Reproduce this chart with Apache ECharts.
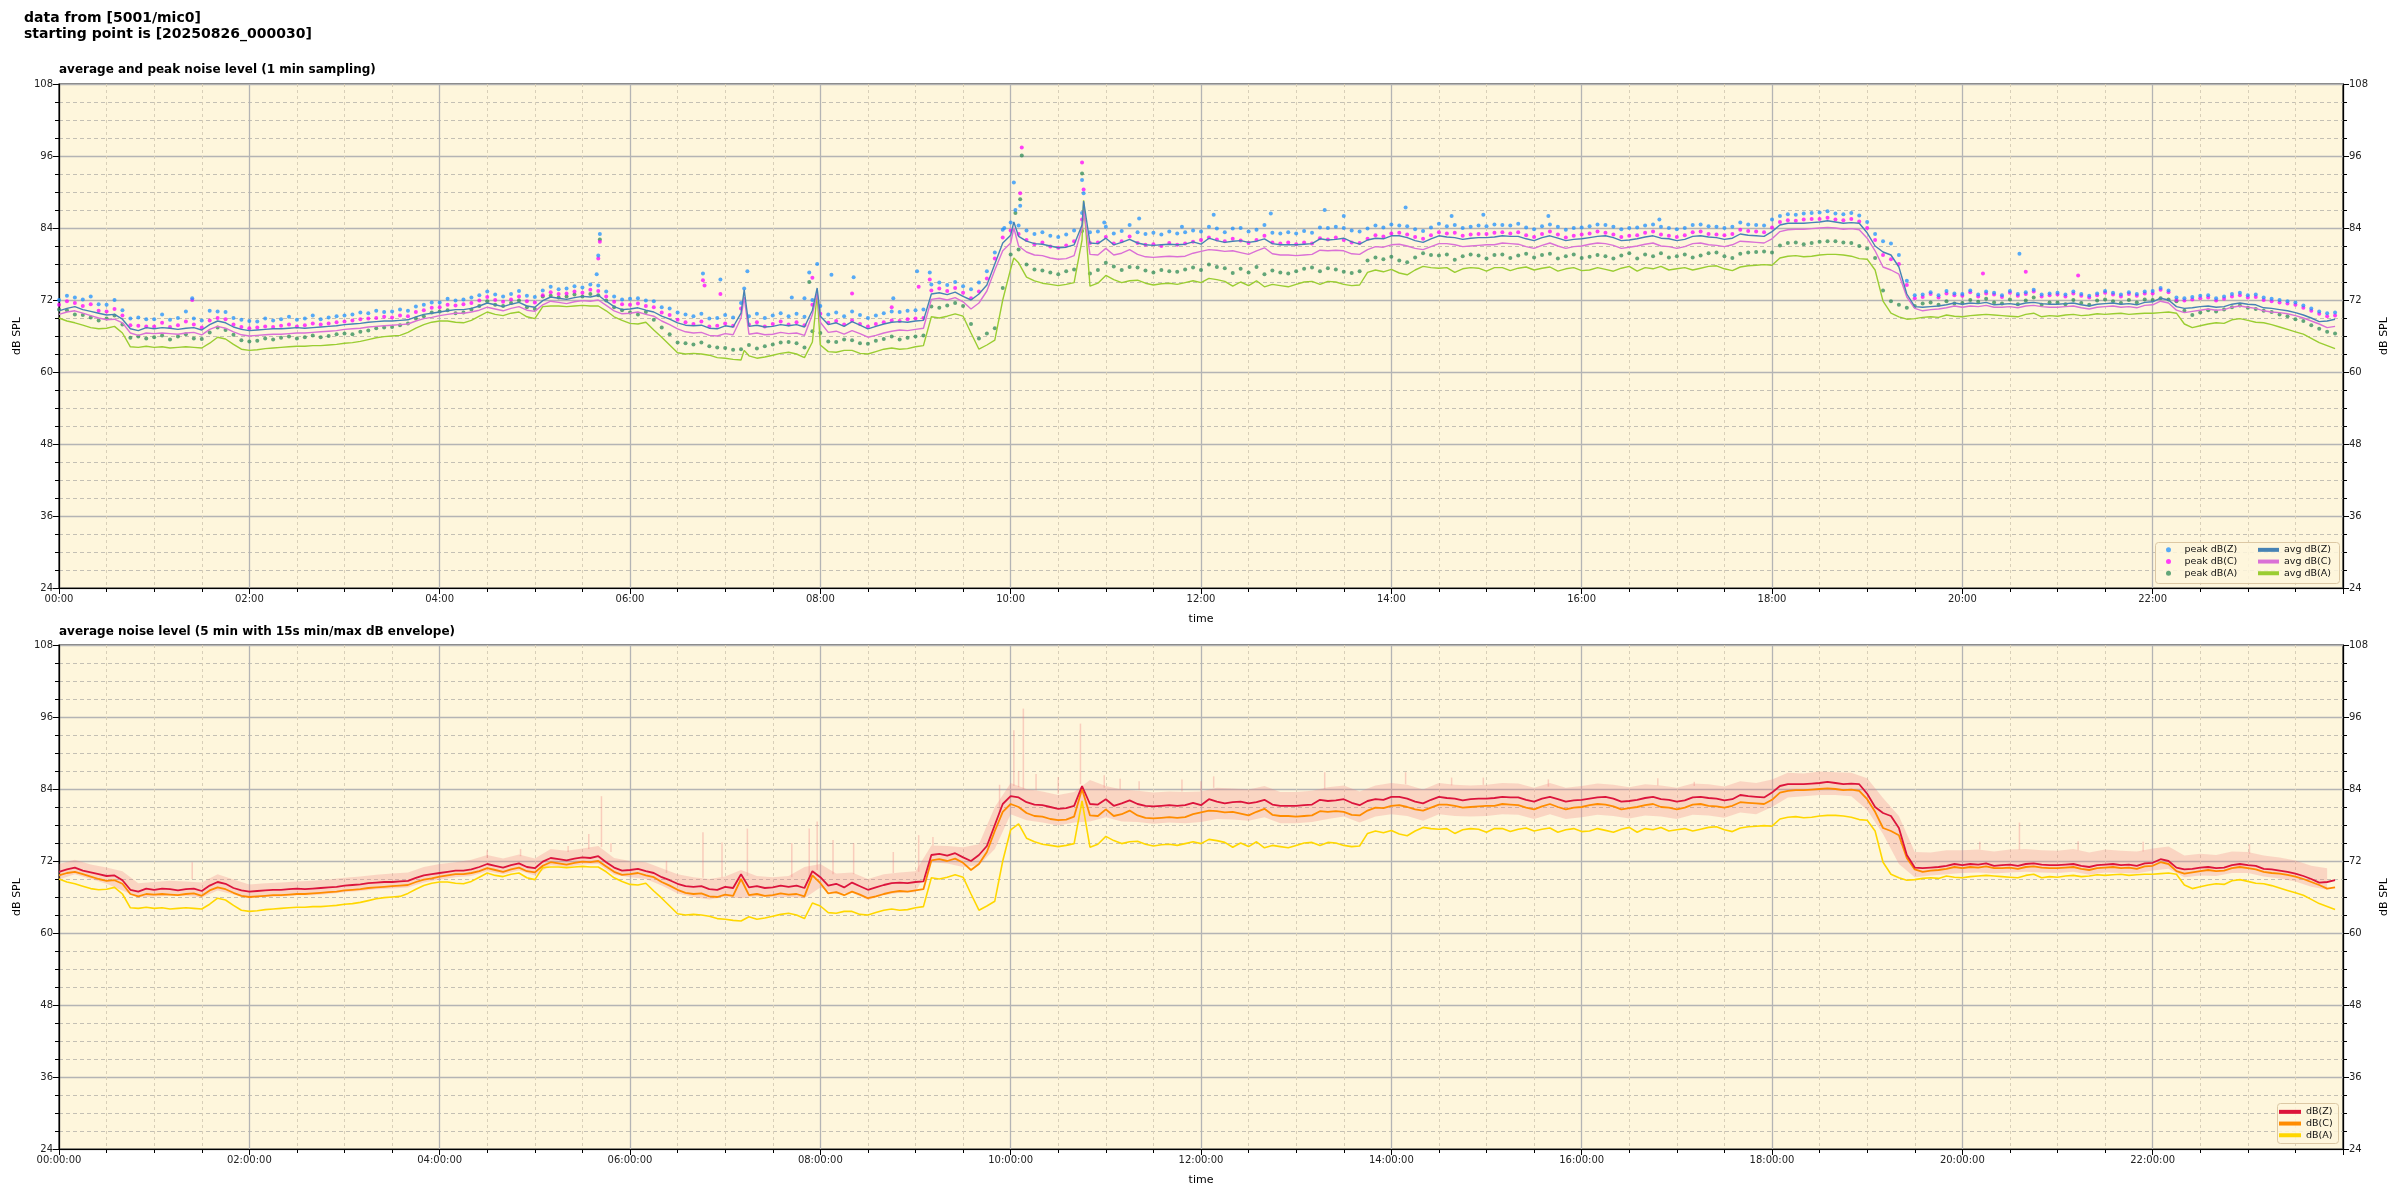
<!DOCTYPE html>
<html><head><meta charset="utf-8">
<script src="https://cdn.jsdelivr.net/npm/echarts@6/dist/echarts.min.js"></script>
<style>html,body{margin:0;padding:0;background:#fff}#c{width:2400px;height:1200px}</style>
</head><body><div id="c"></div>
<script>
// ---------------- DATA ----------------
// time in minutes after 00:00; averages/peaks sampled every 5 min, envelope every 10 min
const STEP_AVG = 5;
const STEP_ENV = 10;
const hourLabels = ['00:00','02:00','04:00','06:00','08:00','10:00','12:00','14:00','16:00','18:00','20:00','22:00',''];
const hourLabelsSec = ['00:00:00','02:00:00','04:00:00','06:00:00','08:00:00','10:00:00','12:00:00','14:00:00','16:00:00','18:00:00','20:00:00','22:00:00',''];

const avgZ = [
70.2,70.6,70.9,70.4,70.1,69.8,69.5,69.6,68.8,67.2,66.9,67.4,
67.2,67.4,67.3,67.1,67.3,67.4,67.0,67.9,68.5,68.2,67.5,67.1,
66.9,67.0,67.1,67.2,67.2,67.3,67.4,67.3,67.4,67.5,67.6,67.7,
67.9,68.0,68.1,68.3,68.4,68.5,68.5,68.6,68.7,69.2,69.6,69.8,
70.0,70.2,70.4,70.4,70.6,71.0,71.5,71.2,70.9,71.3,71.6,71.0,
70.8,71.9,72.5,72.3,72.1,72.4,72.6,72.5,72.8,71.8,70.9,70.4,
70.5,70.7,70.3,70.0,69.3,68.8,68.2,67.8,67.7,67.8,67.3,67.2,
67.7,67.5,69.8,67.6,67.8,67.5,67.6,67.9,67.7,67.9,67.5,70.3,
69.3,67.9,68.2,67.6,68.4,67.8,67.2,67.6,68.0,68.3,68.4,68.3,
68.5,68.6,73.0,73.2,72.9,73.3,72.6,72.0,73.0,74.5,78.0,81.5,
82.8,82.6,81.8,81.4,81.3,81.0,80.7,80.8,81.2,84.5,81.5,81.4,
82.3,81.2,81.6,82.1,81.5,81.2,81.1,81.2,81.3,81.2,81.3,81.7,
81.3,82.3,81.9,81.6,81.8,81.9,81.6,81.8,82.2,81.4,81.2,81.2,
81.2,81.3,81.4,82.2,82.0,82.1,82.3,81.7,81.3,82.0,82.3,82.2,
82.7,82.7,82.4,81.9,81.6,82.2,82.7,82.5,82.4,82.1,82.3,82.4,
82.4,82.5,82.7,82.6,82.6,82.2,81.9,82.4,82.7,82.3,81.9,82.1,
82.2,82.4,82.6,82.7,82.4,81.9,82.0,82.2,82.5,82.7,82.3,82.2,
81.9,82.1,82.6,82.7,82.5,82.4,82.1,82.3,83.0,82.8,82.7,82.6,
83.4,84.5,84.8,84.8,84.8,84.9,85.0,85.2,85.0,84.8,84.9,84.8,
83.2,81.0,80.0,79.5,77.5,73.0,70.9,70.8,70.9,71.0,71.2,71.5,
71.3,71.5,71.4,71.6,71.2,71.3,71.4,71.2,71.5,71.6,71.4,71.3,
71.3,71.4,71.5,71.2,71.0,71.3,71.4,71.5,71.3,71.4,71.2,71.6,
71.7,72.3,72.0,70.9,70.6,70.7,70.9,71.0,70.8,70.9,71.3,71.5,
71.3,71.2,70.7,70.6,70.4,70.2,69.9,69.5,69.0,68.4,68.5,68.8];

const avgC = [
69.6,70.0,70.2,69.8,69.4,69.0,68.7,68.8,68.2,66.5,66.1,66.5,
66.4,66.5,66.4,66.3,66.5,66.6,66.2,67.1,67.6,67.3,66.7,66.2,
66.0,66.1,66.2,66.3,66.3,66.4,66.5,66.5,66.6,66.7,66.8,66.9,
67.1,67.2,67.3,67.5,67.6,67.7,67.8,67.9,68.0,68.5,68.9,69.1,
69.4,69.6,69.8,69.8,70.0,70.3,70.8,70.5,70.2,70.6,70.9,70.3,
70.1,71.2,71.8,71.6,71.4,71.7,71.9,71.8,72.0,71.1,70.2,69.7,
69.8,70.0,69.6,69.3,68.5,67.9,67.2,66.7,66.5,66.6,66.1,66.0,
66.4,66.2,69.0,66.3,66.5,66.2,66.3,66.6,66.4,66.5,66.1,69.6,
68.3,66.6,66.8,66.3,66.9,66.4,65.8,66.1,66.5,66.8,67.0,66.9,
67.1,67.3,72.1,72.3,72.0,72.4,71.7,70.5,71.5,73.5,77.0,80.2,
81.5,81.0,80.0,79.5,79.4,79.0,78.8,78.9,79.4,84.0,79.6,79.5,
80.6,79.5,79.8,80.4,79.6,79.2,79.1,79.2,79.3,79.2,79.3,79.8,
80.1,80.4,80.3,80.1,80.2,79.9,79.6,80.2,80.7,79.7,79.5,79.5,
79.4,79.5,79.6,80.3,80.2,80.3,80.2,79.7,79.6,80.4,80.9,80.8,
81.2,81.3,81.0,80.6,80.4,80.9,81.4,81.4,81.2,80.9,81.0,81.1,
81.2,81.2,81.5,81.4,81.3,80.9,80.6,81.1,81.5,81.0,80.6,80.9,
81.0,81.3,81.5,81.4,81.1,80.6,80.8,81.0,81.3,81.5,81.0,80.9,
80.6,80.9,81.4,81.5,81.2,81.1,80.9,81.2,81.8,81.7,81.6,81.5,
82.2,83.4,83.7,83.8,83.8,83.9,84.0,84.1,84.0,83.8,83.9,83.7,
82.3,80.2,77.5,77.0,76.3,72.5,70.6,70.2,70.4,70.5,70.7,71.0,
70.8,71.0,70.9,71.1,70.8,70.8,70.9,70.7,71.0,71.1,70.9,70.8,
70.8,70.9,71.0,70.7,70.5,70.8,70.9,71.0,70.8,70.9,70.7,71.1,
71.2,71.8,71.5,70.3,69.9,70.1,70.3,70.5,70.3,70.4,70.8,71.0,
70.8,70.6,70.2,70.0,69.9,69.7,69.4,69.0,68.5,68.0,67.4,67.6];

const avgA = [
69.0,68.5,68.2,67.8,67.4,67.2,67.3,67.6,66.5,64.2,64.1,64.3,
64.1,64.2,64.0,64.1,64.2,64.1,64.0,64.8,65.8,65.5,64.6,63.8,
63.6,63.7,63.9,64.0,64.1,64.2,64.3,64.3,64.4,64.4,64.5,64.6,
64.8,64.9,65.1,65.4,65.7,65.9,66.0,66.1,66.6,67.3,67.9,68.3,
68.5,68.5,68.3,68.2,68.6,69.3,70.0,69.6,69.4,69.8,70.0,69.2,
68.9,70.9,71.0,71.0,70.9,71.0,71.1,71.0,71.0,70.2,69.2,68.6,
68.1,68.0,68.3,67.0,65.8,64.5,63.2,63.0,63.1,63.0,62.8,62.4,
62.3,62.1,62.0,62.7,62.3,62.5,62.8,63.1,63.3,63.0,62.4,65.0,
64.5,63.4,63.3,63.6,63.6,63.1,63.0,63.4,63.8,64.0,63.8,63.9,
64.2,64.4,69.2,69.0,69.3,69.7,69.3,66.5,63.8,64.5,65.3,72.0,
77.2,78.2,75.8,75.2,74.8,74.6,74.4,74.6,74.9,82.0,74.3,74.8,
76.1,75.4,74.9,75.2,75.3,74.8,74.5,74.7,74.8,74.6,74.9,75.2,
74.9,75.6,75.4,75.1,74.3,75.0,74.4,75.2,74.2,74.6,74.4,74.2,
74.6,75.0,75.1,74.6,75.1,75.0,74.6,74.4,74.5,76.6,77.0,76.7,
77.1,76.5,76.2,77.0,77.6,77.4,77.3,77.4,76.6,77.2,77.4,77.3,
76.8,77.4,77.4,76.9,77.3,77.5,77.0,77.3,77.5,76.8,77.2,77.4,
76.9,77.0,77.4,77.1,76.8,77.3,77.6,76.8,77.4,77.2,77.6,77.0,
77.2,77.4,77.0,77.3,77.6,77.7,77.2,76.9,77.5,77.7,77.8,77.9,
77.8,79.0,79.3,79.4,79.2,79.3,79.5,79.6,79.6,79.5,79.3,78.9,
78.8,77.0,71.8,69.8,69.2,68.8,68.9,69.1,69.2,69.1,69.5,69.3,
69.2,69.4,69.5,69.6,69.5,69.4,69.3,69.2,69.6,69.8,69.2,69.4,
69.3,69.5,69.6,69.4,69.5,69.7,69.6,69.7,69.8,69.6,69.7,69.8,
69.8,69.9,70.0,69.8,68.0,67.4,67.7,68.0,68.2,68.1,68.7,68.9,
68.6,68.3,68.2,67.9,67.5,67.1,66.7,66.3,65.6,64.9,64.4,63.9];

const peakZ = [
72.0,72.7,72.4,72.1,72.6,71.3,71.2,72.0,70.3,68.9,69.1,68.8,
68.8,69.6,68.7,69.0,70.1,68.9,68.6,70.2,70.1,70.0,69.0,68.7,
68.5,68.4,68.9,68.6,68.8,69.2,68.7,68.9,69.4,68.8,69.1,69.3,
69.4,69.6,69.9,69.8,70.2,70.0,70.1,70.4,70.2,70.9,71.2,71.6,
71.6,72.2,71.9,72.1,72.4,72.8,73.4,72.9,72.6,73.0,73.5,72.7,
72.5,73.6,74.2,73.8,73.9,74.3,74.1,74.6,74.4,73.4,72.6,72.1,
72.2,72.3,71.9,71.8,70.8,70.6,69.9,69.6,69.3,69.7,68.9,69.0,
69.5,69.1,71.5,69.3,69.7,69.0,69.4,69.8,69.3,69.7,69.2,72.0,
71.0,69.6,69.9,69.3,70.1,69.5,69.0,69.4,69.8,70.1,70.0,70.2,
70.3,70.4,74.6,74.9,74.5,75.0,74.3,73.8,74.9,76.8,79.9,83.7,
84.9,84.4,83.6,83.0,83.3,82.7,82.5,82.9,83.6,86.5,83.3,83.4,
84.2,83.1,83.5,84.5,83.3,83.0,83.2,82.9,83.4,83.1,83.3,83.6,
83.4,84.2,83.9,83.3,83.9,84.0,83.4,83.7,84.5,83.2,83.1,83.3,
83.1,83.5,83.2,84.1,84.0,84.2,84.0,83.6,83.4,83.9,84.4,84.1,
84.6,84.4,84.3,83.8,83.5,84.1,84.7,84.3,84.5,84.0,84.2,84.4,
84.3,84.6,84.5,84.4,84.7,84.1,83.8,84.3,84.6,84.2,83.7,84.0,
84.1,84.3,84.6,84.5,84.2,83.8,84.0,84.1,84.4,84.6,84.2,84.0,
83.8,84.0,84.5,84.6,84.3,84.2,84.0,84.2,84.9,84.6,84.5,84.4,
85.4,86.0,86.3,86.2,86.4,86.5,86.6,86.8,86.4,86.3,86.5,86.1,
85.0,83.0,81.8,81.4,79.5,75.2,72.8,72.9,73.3,72.8,73.5,73.1,
73.0,73.6,72.9,73.4,73.2,72.8,73.5,73.0,73.3,73.7,72.9,73.1,
73.2,72.9,73.4,73.0,72.7,73.1,73.5,73.2,72.9,73.3,73.0,73.4,
73.5,74.0,73.6,72.4,72.3,72.5,72.7,72.8,72.3,72.6,73.0,73.2,
72.8,72.9,72.4,72.2,72.0,71.8,71.6,71.1,70.6,70.1,69.8,69.9];

const peakC = [
71.2,71.8,71.5,71.0,71.3,70.2,70.1,70.5,69.4,67.8,67.7,67.6,
67.6,68.2,67.5,67.8,68.4,67.9,67.4,68.6,69.0,68.8,67.9,67.5,
67.3,67.4,67.6,67.5,67.7,67.9,67.6,67.8,68.1,67.9,68.1,68.3,
68.4,68.6,68.8,68.9,69.0,69.2,69.1,69.4,69.3,70.0,70.3,70.7,
70.8,71.2,71.1,71.3,71.5,71.9,72.5,72.0,71.7,72.1,72.6,71.8,
71.6,72.8,73.3,73.0,73.1,73.4,73.2,73.7,73.5,72.6,71.7,71.3,
71.2,71.4,71.0,70.8,69.9,69.5,68.7,68.3,68.0,68.4,67.6,67.7,
68.1,67.7,70.6,67.9,68.3,67.6,68.0,68.4,67.9,68.3,67.8,71.2,
69.7,68.2,68.5,67.9,68.6,68.0,67.6,68.0,68.3,68.6,68.5,68.8,
68.9,69.0,73.6,73.9,73.5,74.0,73.2,72.3,73.4,75.6,78.9,82.4,
83.6,83.0,82.0,81.3,81.6,80.9,80.7,81.1,81.8,85.4,81.5,81.6,
82.5,81.4,81.8,82.6,81.5,81.2,81.3,81.0,81.5,81.2,81.4,81.7,
82.0,82.4,82.1,81.8,82.2,81.9,81.5,82.0,82.7,81.6,81.4,81.6,
81.3,81.6,81.4,82.3,82.1,82.4,82.0,81.6,81.5,82.2,82.8,82.6,
83.1,83.2,82.9,82.5,82.2,82.8,83.3,83.1,83.2,82.7,82.9,83.0,
83.0,83.2,83.3,83.1,83.3,82.8,82.5,83.0,83.4,82.9,82.4,82.7,
82.9,83.1,83.4,83.2,82.9,82.5,82.7,82.8,83.2,83.4,82.9,82.7,
82.5,82.8,83.3,83.4,83.0,82.9,82.8,83.0,83.7,83.5,83.4,83.3,
84.1,85.0,85.3,85.2,85.4,85.5,85.5,85.7,85.4,85.3,85.5,85.1,
84.0,82.0,79.5,78.8,78.0,74.5,72.3,72.5,73.0,72.4,73.1,72.8,
72.7,73.3,72.6,73.1,72.9,72.5,73.2,72.7,73.0,73.4,72.6,72.8,
72.9,72.6,73.1,72.7,72.4,72.8,73.2,72.9,72.6,73.0,72.7,73.1,
73.1,73.7,73.3,72.0,71.9,72.1,72.3,72.4,71.9,72.2,72.6,72.8,
72.4,72.5,72.0,71.8,71.6,71.4,71.2,70.7,70.2,69.7,69.3,69.4];

const peakA = [
70.4,70.3,69.6,69.5,69.1,68.6,68.9,69.4,67.9,65.7,65.9,65.6,
65.8,66.1,65.4,65.9,66.3,65.6,65.5,66.6,67.4,67.0,66.2,65.3,
65.1,65.2,65.6,65.4,65.7,65.9,65.6,65.8,66.1,65.8,66.0,66.3,
66.4,66.3,66.7,66.9,67.3,67.4,67.5,67.8,68.1,68.9,69.3,69.9,
70.1,70.3,69.8,69.9,70.4,71.0,71.8,71.2,71.0,71.5,71.9,70.8,
70.5,72.6,72.7,72.4,72.6,72.9,72.6,73.0,72.8,71.9,70.8,70.3,
69.9,69.6,70.0,68.7,67.4,66.3,64.9,64.8,64.6,64.9,64.3,64.1,
64.0,63.7,63.8,64.5,63.9,64.3,64.6,64.9,65.0,64.8,64.1,66.8,
66.5,65.1,65.0,65.4,65.3,64.8,64.7,65.2,65.5,65.9,65.4,65.7,
65.9,66.1,70.9,70.7,71.1,71.5,71.0,68.0,65.6,66.4,67.3,74.0,
79.6,80.4,77.9,77.1,76.9,76.6,76.3,76.8,77.1,83.5,76.4,77.0,
78.2,77.6,77.0,77.5,77.4,76.9,76.6,77.0,76.8,76.7,77.1,77.4,
77.0,77.9,77.5,77.3,76.5,77.2,76.6,77.5,76.3,76.9,76.6,76.4,
76.8,77.2,77.4,76.8,77.3,77.1,76.7,76.5,76.8,78.6,79.1,78.8,
79.2,78.6,78.3,79.1,79.8,79.5,79.4,79.6,78.7,79.3,79.6,79.4,
78.9,79.5,79.6,79.0,79.4,79.7,79.1,79.5,79.7,78.9,79.3,79.6,
79.0,79.2,79.5,79.3,78.9,79.4,79.8,78.9,79.6,79.3,79.8,79.1,
79.3,79.6,79.1,79.4,79.8,79.9,79.3,79.0,79.7,79.9,80.0,80.1,
79.9,81.1,81.5,81.6,81.3,81.5,81.7,81.8,81.8,81.6,81.5,81.0,
80.6,79.0,73.6,71.8,71.2,70.7,71.0,71.4,71.6,71.2,71.8,71.4,
71.5,72.0,71.7,72.2,71.6,71.4,72.1,71.3,71.9,72.4,71.2,71.6,
71.6,71.3,72.0,71.5,71.2,71.9,72.1,71.8,71.5,72.0,71.6,72.1,
72.0,72.3,72.1,71.8,70.2,69.5,69.9,70.3,70.1,70.4,70.8,71.1,
70.7,70.5,70.2,70.0,69.6,69.3,68.8,68.5,67.8,67.2,66.7,66.4];

// isolated peak readings (minute, dB)
const outZT = [84,339,340,341,406,417,432,434,462,470,473,478,487,501,526,541,549,596,602,603,606,645,646,659,681,708,728,764,798,810,849,878,898,939,1009,1236];
const outZ  = [72.3,76.3,79.4,83.0,76.4,75.4,73.9,76.8,72.4,72.3,76.6,78.0,76.2,75.8,72.3,76.8,76.6,84.0,91.6,87.0,87.7,92.0,89.8,84.9,85.6,84.2,86.2,86.4,87.0,86.0,87.4,86.0,86.2,86.0,85.4,79.7];
const outCT = [84,341,340,406,407,417,475,500,525,542,549,606,607,645,646,1213,1240,1273];
const outC  = [72.0,81.7,78.9,75.3,74.4,73.0,75.7,73.1,70.8,74.2,75.4,89.8,97.4,94.9,90.4,76.4,76.7,76.1];
const outAT = [341,473,603,606,607,645];
const outA  = [82.1,75.0,86.5,88.8,96.1,93.1];

// 1-min average spikes seen in the upper panel
const topSpikeT = [432,478,602,646];
const topSpikeZ = [73.7,74.0,85.0,88.5];
const topSpikeC = [72.5,73.2,84.0,87.0];
const topSpikeA = [63.6,73.0,79.0,88.6];

// 15 s min/max envelope (every 10 min)
const envMax = [
71.5,72.2,71.4,70.9,70.3,68.3, 68.5,68.7,68.6,68.4,69.8,68.9,
68.1,68.3,68.4,68.6,68.7,68.9, 69.2,69.4,69.7,69.9,70.1,71.0,
71.5,71.8,72.2,73.0,72.4,73.1, 72.4,74.0,73.7,74.1,74.5,72.5,
72.0,71.8,70.8,69.8,69.3,69.0, 69.4,70.5,69.5,69.3,69.5,71.0,
71.5,69.9,70.1,69.0,69.8,70.1, 70.3,74.6,74.5,74.3,74.8,81.0,
85.0,84.0,83.6,83.0,83.5,85.5, 84.5,83.9,83.7,83.4,83.6,83.5,
83.6,84.2,84.1,83.9,84.5,83.5, 83.5,83.7,84.3,84.6,83.6,84.6,
85.0,84.7,83.9,85.0,84.7,84.6, 84.7,85.0,84.9,84.2,85.0,84.2,
84.5,84.9,84.7,84.3,84.8,84.6, 84.2,84.9,84.8,84.4,85.3,85.0,
85.6,86.7,86.6,86.9,86.8,86.7, 85.8,82.5,79.5,73.5,73.4,73.8,
73.8,73.9,73.6,73.9,74.0,73.8, 73.7,74.0,73.4,73.9,73.7,73.6,
74.1,74.4,72.9,73.2,73.0,73.6, 73.5,72.9,72.6,72.1,71.2,70.8];
const envMin = [
68.9,69.8,69.0,68.2,67.1,65.9, 66.1,66.2,66.2,65.9,67.1,66.4,
65.8,66.0,66.1,66.3,66.3,66.5, 66.8,67.0,67.3,67.4,67.6,68.4,
68.9,69.3,69.5,70.3,69.8,70.4, 69.6,71.3,71.0,71.4,71.5,69.7,
69.3,69.0,67.9,66.6,66.0,65.6, 66.0,65.8,66.1,65.9,66.0,65.8,
67.6,66.5,66.7,65.5,66.3,66.7, 66.8,71.8,71.6,71.0,71.3,74.0,
79.8,78.8,78.4,77.9,78.4,78.6, 79.3,78.6,78.5,78.2,78.4,78.3,
78.5,79.0,78.9,78.7,79.3,78.3, 78.3,78.5,79.0,79.4,78.4,79.4,
79.8,79.5,78.7,79.8,79.5,79.4, 79.5,79.8,79.7,79.0,79.8,79.0,
79.3,79.7,79.5,79.1,79.6,79.4, 79.0,79.7,79.6,79.2,80.1,79.8,
81.0,82.6,82.8,83.0,83.0,82.8, 80.5,76.5,71.5,69.3,69.6,69.8,
70.0,70.1,69.9,70.1,70.2,70.1, 70.0,70.2,69.7,70.1,70.0,69.9,
70.4,70.7,69.3,69.6,69.5,70.0, 70.0,69.4,69.1,68.6,67.7,67.2];

// short envelope excursions (minute, from dB, to dB)
const spikeT  = [84,270,291,321,334,342,348,383,406,418,434,462,473,478,488,501,526,542,551,593,602,605,608,616,630,644,659,669,681,708,720,728,798,849,878,898,939,1008,1031,1211,1236,1273,1314,1381];
const spikeLo = [69.0,72.5,72.8,73.5,74.0,74.3,73.5,70.0,69.2,69.3,69.5,69.3,69.5,70.5,69.8,69.8,70.0,70.2,74.6,80.0,84.5,84.3,84.0,83.8,83.2,84.8,84.2,84.0,83.8,83.6,83.6,84.2,84.0,84.8,84.6,84.7,84.4,84.6,84.5,73.9,73.9,73.8,73.6,73.2];
const spikeHi = [71.8,73.8,74.0,74.5,76.5,82.8,75.0,72.0,76.8,75.1,77.4,75.0,77.4,78.6,75.5,75.0,73.5,76.3,76.0,84.7,93.8,87.0,97.4,86.5,86.0,94.9,86.3,85.7,85.3,85.6,85.3,86.1,86.8,86.8,85.9,85.9,85.6,85.8,85.2,75.2,78.4,75.3,75.2,74.8];

// ---------------- BUILD ----------------
const F = 'DejaVu Sans';
const series5 = vals => vals.map((v, i) => [i * STEP_AVG, v]);
const zipT = (ts, vs) => ts.map((t, i) => [t, vs[i]]);
const merged = (vals, ts, vs) => series5(vals).concat(zipT(ts, vs)).sort((a, b) => a[0] - b[0]);
const envData = envMax.map((v, i) => [i * STEP_ENV, envMin[i], v]);
const spikeData = spikeT.map((t, i) => [t, spikeLo[i], spikeHi[i]]);

function xAx(gi, labels) {
  return {
    type: 'value', gridIndex: gi, min: 0, max: 1440, interval: 120,
    name: 'time', nameLocation: 'middle', nameGap: 26,
    nameTextStyle: { fontSize: 11, color: '#000', fontFamily: F },
    axisLine: { show: true, onZero: false, lineStyle: { color: '#000', width: 1.2 } },
    axisTick: { show: true, length: 6, lineStyle: { color: '#000', width: 1 } },
    minorTick: { show: true, splitNumber: 4, length: 4, lineStyle: { color: '#000', width: 1 } },
    axisLabel: { fontSize: 10, color: '#222', fontFamily: F, margin: 6, showMaxLabel: false,
      formatter: v => labels[Math.round(v / 120)] || '' },
    splitLine: { show: true, lineStyle: { color: '#b4b4b4', width: 1.3 } },
    minorSplitLine: { show: true, lineStyle: { color: '#d8cfb8', width: 1, type: [3, 3] } }
  };
}
function yAx(gi, pos, grid) {
  return {
    type: 'value', gridIndex: gi, position: pos, min: 24, max: 108, interval: 12,
    name: 'dB SPL', nameLocation: 'middle', nameRotate: 90, nameGap: pos === 'left' ? 34 : 32,
    nameTextStyle: { fontSize: 11, color: '#000', fontFamily: F },
    axisLine: { show: true, onZero: false, lineStyle: { color: '#000', width: 1.2 } },
    axisTick: { show: true, length: 6, lineStyle: { color: '#000', width: 1 } },
    minorTick: { show: true, splitNumber: 4, length: 4, lineStyle: { color: '#000', width: 1 } },
    axisLabel: { fontSize: 10, color: '#222', fontFamily: F, margin: 6 },
    splitLine: { show: grid, lineStyle: { color: '#b4b4b4', width: 1.3 } },
    minorSplitLine: { show: grid, lineStyle: { color: '#c4c0b4', width: 1, type: [4, 3] } }
  };
}
const scat = (name, color, data) => ({
  type: 'scatter', name, xAxisIndex: 0, yAxisIndex: 0, data,
  symbol: 'circle', symbolSize: 4, itemStyle: { color, opacity: 0.75 }, z: 3, silent: true
});
const line = (name, color, data, xi, yi, w, z) => ({
  type: 'line', name, xAxisIndex: xi, yAxisIndex: yi, data, showSymbol: false, symbol: 'none',
  sampling: 'none', lineStyle: { color, width: w }, itemStyle: { color }, z, silent: true
});
const legendText = { fontSize: 9.5, color: '#111', fontFamily: F, lineHeight: 11.7 };

const option = {
  animation: false,
  backgroundColor: '#ffffff',
  title: [
    { text: 'data from [5001/mic0]\nstarting point is [20250826_000030]', left: 24, top: 10, padding: 0,
      textStyle: { fontSize: 14, fontWeight: 'bold', color: '#000', fontFamily: F, lineHeight: 16 } },
    { text: 'average and peak noise level (1 min sampling)', left: 59, top: 64, padding: 0,
      textStyle: { fontSize: 12, fontWeight: 'bold', color: '#000', fontFamily: F } },
    { text: 'average noise level (5 min with 15s min/max dB envelope)', left: 59, top: 626, padding: 0,
      textStyle: { fontSize: 12, fontWeight: 'bold', color: '#000', fontFamily: F } }
  ],
  grid: [
    { left: 59, right: 57, top: 84, height: 504, containLabel: false, show: true,
      backgroundColor: '#fef6dc', borderColor: '#000', borderWidth: 1.2 },
    { left: 59, right: 57, top: 645, height: 504, containLabel: false, show: true,
      backgroundColor: '#fef6dc', borderColor: '#000', borderWidth: 1.2 }
  ],
  xAxis: [xAx(0, hourLabels), xAx(1, hourLabelsSec)],
  yAxis: [yAx(0, 'left', true), yAx(0, 'right', false), yAx(1, 'left', true), yAx(1, 'right', false)],
  graphic: [
    { type: 'rect', left: 2155, top: 542, shape: { width: 184, height: 41, r: 3 }, z: 90,
      style: { fill: 'rgba(254,246,220,0.85)', stroke: '#dcc8a4', lineWidth: 1 } },
    { type: 'rect', left: 2277, top: 1103, shape: { width: 61, height: 40, r: 3 }, z: 90,
      style: { fill: 'rgba(254,246,220,0.85)', stroke: '#dcc8a4', lineWidth: 1 } }
  ],
  legend: [
    { orient: 'vertical', left: 2166, top: 544, padding: 0, itemWidth: 22, itemHeight: 5, itemGap: 0, selectedMode: false, z: 100,
      textStyle: legendText, data: [
        { name: 'peak dB(Z)', icon: 'circle' }, { name: 'peak dB(C)', icon: 'circle' }, { name: 'peak dB(A)', icon: 'circle' }] },
    { orient: 'vertical', left: 2258, top: 544, padding: 0, itemWidth: 21, itemHeight: 4, itemGap: 0, selectedMode: false, z: 100,
      textStyle: legendText, data: [
        { name: 'avg dB(Z)', icon: 'rect' }, { name: 'avg dB(C)', icon: 'rect' }, { name: 'avg dB(A)', icon: 'rect' }] },
    { orient: 'vertical', left: 2279, top: 1106, padding: 0, itemWidth: 22, itemHeight: 4, itemGap: 0, selectedMode: false, z: 100,
      textStyle: legendText, data: [
        { name: 'dB(Z)', icon: 'rect' }, { name: 'dB(C)', icon: 'rect' }, { name: 'dB(A)', icon: 'rect' }] }
  ],
  series: [
    scat('peak dB(A)', '#2e8b57', series5(peakA).concat(zipT(outAT, outA))),
    scat('peak dB(C)', '#ff00ff', series5(peakC).concat(zipT(outCT, outC))),
    scat('peak dB(Z)', '#1e90ff', series5(peakZ).concat(zipT(outZT, outZ))),
    line('avg dB(A)', '#9acd32', merged(avgA, topSpikeT, topSpikeA), 0, 0, 1.4, 4),
    line('avg dB(C)', '#da70d6', merged(avgC, topSpikeT, topSpikeC), 0, 0, 1.4, 5),
    line('avg dB(Z)', '#4682b4', merged(avgZ, topSpikeT, topSpikeZ), 0, 0, 1.4, 6),
    {
      type: 'custom', name: 'envelope', xAxisIndex: 1, yAxisIndex: 2, data: envData,
      encode: { x: 0, y: [1, 2] }, silent: true, z: 2,
      renderItem: (params, api) => {
        if (params.dataIndex !== 0) return null;
        const up = envData.map(d => api.coord([d[0], d[2]]));
        const lo = envData.map(d => api.coord([d[0], d[1]])).reverse();
        return { type: 'polygon', shape: { points: up.concat(lo) },
          style: { fill: 'rgba(240,128,128,0.28)' } };
      }
    },
    {
      type: 'custom', name: 'envspikes', xAxisIndex: 1, yAxisIndex: 2, data: spikeData,
      encode: { x: 0, y: [1, 2] }, silent: true, z: 2,
      renderItem: (params, api) => {
        const a = api.coord([api.value(0), api.value(1)]);
        const b = api.coord([api.value(0), api.value(2)]);
        return { type: 'line', shape: { x1: a[0], y1: a[1], x2: b[0], y2: b[1] },
          style: { stroke: 'rgba(240,128,128,0.35)', lineWidth: 1.5 } };
      }
    },
    line('dB(A)', '#ffd700', series5(avgA), 1, 2, 1.6, 4),
    line('dB(C)', '#ff8c00', series5(avgC), 1, 2, 1.8, 5),
    line('dB(Z)', '#dc143c', series5(avgZ), 1, 2, 1.8, 6)
  ]
};
const chart = echarts.init(document.getElementById('c'), null, { renderer: 'canvas' });
chart.setOption(option);
</script></body></html>
